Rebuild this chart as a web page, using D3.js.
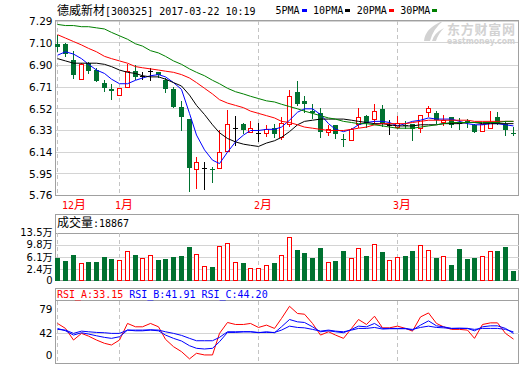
<!DOCTYPE html>
<html><head><meta charset="utf-8">
<script src="https://cdn.jsdelivr.net/npm/d3@7"></script>
<style>body{margin:0;background:#fff}svg{display:block}</style>
</head><body><svg id="c" width="520" height="365"></svg>
<script>
// ---------------- data ----------------
const stockTitle = "德威新材[300325] 2017-03-22 10:19";
const dates = ["2016-12-21","2016-12-22","2016-12-23","2016-12-26","2016-12-27","2016-12-28","2016-12-29","2016-12-30",
"2017-01-03","2017-01-04","2017-01-05","2017-01-06","2017-01-09","2017-01-10","2017-01-11","2017-01-12","2017-01-13","2017-01-16","2017-01-17","2017-01-18","2017-01-19","2017-01-20","2017-01-23","2017-01-24","2017-01-25","2017-01-26",
"2017-02-03","2017-02-06","2017-02-07","2017-02-08","2017-02-09","2017-02-10","2017-02-13","2017-02-14","2017-02-15","2017-02-16","2017-02-17","2017-02-20","2017-02-21","2017-02-22","2017-02-23","2017-02-24","2017-02-27","2017-02-28",
"2017-03-01","2017-03-02","2017-03-03","2017-03-06","2017-03-07","2017-03-08","2017-03-09","2017-03-10","2017-03-13","2017-03-14","2017-03-15","2017-03-16","2017-03-17","2017-03-20","2017-03-21","2017-03-22"];
const openP  = [7.09,7.09,6.95,6.78,6.92,6.86,6.75,6.69,6.64,6.71,6.85,6.81,6.85,6.84,6.77,6.69,6.54,6.43,5.99,6.00,5.99,6.00,6.15,6.35,6.385,6.32,6.31,6.31,6.35,6.275,6.39,6.665,6.59,6.505,6.48,6.32,6.375,6.255,6.245,6.385,6.46,6.435,6.52,6.375,6.36,6.375,6.385,6.355,6.495,6.48,6.405,6.445,6.395,6.415,6.38,6.325,6.355,6.445,6.39,6.31];
const highP  = [7.17,7.10,7.03,6.92,6.93,6.88,6.77,6.74,6.70,6.91,6.90,6.84,6.88,6.84,6.79,6.71,6.59,6.43,6.10,6.05,6.01,6.33,6.51,6.455,6.40,6.41,6.40,6.375,6.39,6.45,6.685,6.76,6.63,6.56,6.525,6.375,6.38,6.30,6.355,6.53,6.465,6.56,6.555,6.42,6.46,6.41,6.39,6.47,6.545,6.50,6.465,6.45,6.44,6.43,6.385,6.39,6.50,6.49,6.41,6.36];
const lowP   = [7.03,6.98,6.79,6.77,6.83,6.76,6.68,6.61,6.635,6.70,6.78,6.78,6.77,6.80,6.665,6.54,6.33,5.80,5.82,5.82,5.88,5.995,6.14,6.20,6.31,6.31,6.235,6.275,6.275,6.245,6.36,6.555,6.495,6.44,6.275,6.28,6.26,6.19,6.24,6.355,6.36,6.39,6.37,6.30,6.34,6.35,6.245,6.31,6.45,6.40,6.37,6.36,6.34,6.36,6.315,6.32,6.35,6.39,6.29,6.29];
const closeP = [7.06,7.00,6.82,6.91,6.85,6.76,6.70,6.68,6.70,6.85,6.80,6.81,6.85,6.82,6.69,6.54,6.45,6.00,6.05,6.00,5.985,6.14,6.385,6.35,6.33,6.35,6.31,6.345,6.295,6.395,6.63,6.56,6.56,6.48,6.32,6.345,6.295,6.25,6.34,6.45,6.40,6.50,6.39,6.375,6.40,6.365,6.345,6.465,6.525,6.42,6.42,6.375,6.39,6.405,6.32,6.385,6.405,6.40,6.335,6.295];
const ma5  = [6.99,7.02,7.00,6.96,6.91,6.86,6.83,6.78,6.74,6.74,6.77,6.79,6.81,6.82,6.80,6.75,6.69,6.48,6.29,6.16,6.07,6.04,6.14,6.23,6.29,6.33,6.33,6.34,6.34,6.36,6.42,6.49,6.52,6.52,6.47,6.39,6.34,6.32,6.34,6.38,6.40,6.41,6.41,6.40,6.37,6.39,6.41,6.42,6.44,6.43,6.43,6.43,6.41,6.39,6.38,6.38,6.39,6.39,6.38,6.37];
const ma10 = [6.96,6.94,6.92,6.92,6.92,6.92,6.91,6.89,6.86,6.84,6.83,6.81,6.80,6.80,6.78,6.75,6.72,6.64,6.55,6.47,6.38,6.31,6.26,6.23,6.21,6.20,6.19,6.22,6.24,6.27,6.32,6.38,6.41,6.42,6.43,6.43,6.43,6.43,6.42,6.41,6.40,6.39,6.39,6.38,6.37,6.37,6.37,6.38,6.38,6.38,6.39,6.39,6.39,6.40,6.40,6.39,6.39,6.39,6.39,6.39];
const ma20 = [7.17,7.14,7.11,7.08,7.05,7.02,6.98,6.96,6.94,6.92,6.89,6.88,6.87,6.86,6.85,6.84,6.82,6.79,6.75,6.70,6.65,6.60,6.57,6.55,6.53,6.50,6.48,6.46,6.44,6.41,6.40,6.38,6.36,6.35,6.34,6.33,6.33,6.33,6.34,6.35,6.36,6.38,6.39,6.39,6.39,6.39,6.40,6.41,6.42,6.42,6.42,6.42,6.42,6.42,6.41,6.41,6.41,6.41,6.41,6.41];
const ma30 = [7.26,7.25,7.25,7.24,7.24,7.23,7.22,7.19,7.16,7.13,7.09,7.07,7.03,7.01,6.98,6.94,6.91,6.87,6.84,6.81,6.77,6.74,6.70,6.67,6.65,6.63,6.61,6.59,6.58,6.56,6.54,6.52,6.50,6.48,6.46,6.44,6.43,6.41,6.40,6.39,6.39,6.38,6.37,6.36,6.35,6.35,6.35,6.36,6.37,6.38,6.39,6.40,6.40,6.40,6.40,6.40,6.40,6.40,6.41,6.41];
const volume = [5.82,4.82,6.63,4.43,4.52,4.52,6.03,5.42,5.33,8.06,6.63,5.73,6.63,5.12,5.52,6.03,6.33,9.05,6.94,3.52,3.0,9.36,10.47,4.73,4.3,2.91,2.91,3.82,4.3,6.63,12.08,8.15,7.33,5.82,8.75,4.52,4.82,7.84,5.94,8.96,6.42,9.96,7.63,5.12,6.24,6.33,7.84,9.66,8.36,5.82,6.33,3.61,8.45,5.42,5.82,6.33,7.84,7.84,9.05,1.8867]; // 万
const rsiA = [57.4,49.7,31.7,42,37.8,31.7,26.6,24,31.7,57.4,52.2,52.2,57.4,52.2,32.8,21.4,13.7,2.5,11.2,8.6,8.6,42,58.9,55.8,55.8,57.4,51.2,54.8,49.7,65.1,84,72.8,71.7,57.4,39.4,44.5,39.4,34.3,49.7,63.5,55.8,68.6,50.6,50.6,53.2,49.7,45.5,67.5,73.7,57.4,52.2,48.2,48.2,47.1,34.3,55.8,58.3,58.3,42,33.15];
const rsiB = [49.7,46,39.4,43,41,38.3,35.8,34.3,36.8,47.1,46,46,47.1,46,39.4,34.3,30.2,22.9,18.9,17.8,18.9,29.1,43.5,43.5,44.5,44.5,43,44.5,43,52.2,63.5,59.9,58.9,52.2,44.5,46,44.5,43,48.2,53.2,52.2,57.4,49.7,49.7,49.7,49.7,47.1,54.8,61.4,53.7,52.2,49.7,49.7,49.7,46,52.2,53.7,53.7,49.7,41.91];
const rsiC = [48.2,47.1,42,45.5,44.5,43.5,43,42,42,47.1,47.1,47.1,47.6,47.1,44.5,42,38.9,34.3,30.6,30.6,30.6,35.8,44.5,44.5,44.5,44.5,43.5,43.5,43.5,47.1,53.2,51.2,50.6,48.2,45.5,47.1,45.5,44.5,47.1,49.7,49.7,51.2,48.7,49.2,49.2,49.2,48.2,51.2,53.2,51.2,50.6,49.7,50.1,49.7,48.2,49.7,49.7,49.7,48.2,44.2];
const priceTicks = [7.29,7.10,6.90,6.71,6.52,6.33,6.14,5.95,5.76];
const volTicks = [13.5,9.8,6.1,2.4];
const volTickLabels = ["13.5万","9.8万","6.1万","2.4万"];
const rsiTicks = [79,42,0];
const maNames = ["5PMA","10PMA","20PMA","30PMA"];
const rsiNames = ["RSI_A","RSI_B","RSI_C"];

// ---------------- drawing ----------------
const svg = d3.select("#c");
const gridC = "#d4d4d4", frameC = "#a0a0a0", dashC = "#c4c4c4";
const upC = "#ff0000", dnC = "#007130", flatC = "#000000";
const maColors = ["#0000ff","#000000","#ff0000","#008000"];
const L = 55.5, R = 518.5;
const n = dates.length;

const x = d3.scaleBand().domain(d3.range(n)).range([54, 517.2]);
const bodyX = i => Math.round(x(i) + x.bandwidth()/2 - 2.5);
const cx = i => bodyX(i) + 2.5;

const CJK = /[\u3000-\u9fff\uff00-\uffef]/;
function rich(parent, px, py, str, fill, asciiSize = 10, cjkSize = 12, asciiFont = "'DejaVu Sans Mono'") {
  const t = parent.append("text").attr("x", px).attr("y", py).attr("fill", fill);
  const runs = str.match(/[\u3000-\u9fff\uff00-\uffef]+|[^\u3000-\u9fff\uff00-\uffef]+/g);
  runs.forEach(r => {
    const c = CJK.test(r);
    t.append("tspan").text(r)
      .attr("font-family", c ? "'Noto Sans CJK SC'" : asciiFont)
      .attr("font-size", c ? cjkSize : asciiSize);
  });
  return t;
}

const monthStarts = d3.range(n).filter(i => i === 0 || dates[i].slice(5,7) !== dates[i-1].slice(5,7));

// ---- title & legend ----
rich(svg, 57, 15, stockTitle, "#000");
let lx = 275.5;
maNames.forEach((nm, k) => {
  rich(svg, lx, 14, nm, "#000");
  const w = nm.length * 6.02;
  svg.append("rect").attr("x", Math.round(lx + w + 2)).attr("y", 9).attr("width", 5).attr("height", 3).attr("fill", maColors[k]);
  lx = lx + w + 2 + 5 + 6.5;
});

// ---- main panel ----
const yP = d3.scaleLinear().domain([5.76, 7.29]).range([195.5, 21]);
const main = svg.append("g");
main.selectAll("line.grid").data(priceTicks).join("line")
  .attr("x1", L).attr("x2", R)
  .attr("y1", d => Math.floor(yP(d)) + 0.5).attr("y2", d => Math.floor(yP(d)) + 0.5)
  .attr("stroke", gridC).attr("shape-rendering", "crispEdges");
main.selectAll("line.vd").data(monthStarts).join("line")
  .attr("x1", i => cx(i)).attr("x2", i => cx(i)).attr("y1", 21).attr("y2", 195)
  .attr("stroke", dashC).attr("stroke-dasharray", "4,3").attr("shape-rendering", "crispEdges");

// watermark
const wm = main.append("g").attr("fill", "#d2d2d2");
wm.append("path").attr("d", "M424,41 Q425,28 443,21 Q433,29 430,41 Z");
wm.append("path").attr("d", "M432,41 Q434,33 444,28 Q438,34 436,41 Z");
wm.append("text").attr("x", 447).attr("y", 34).attr("font-family", "'Noto Sans CJK SC'").attr("font-weight", "bold")
  .attr("font-size", 13).attr("textLength", 68).text("东方财富网");
wm.append("text").attr("x", 447).attr("y", 44).attr("font-family", "'DejaVu Sans'").attr("font-weight", "bold")
  .attr("font-size", 8).attr("textLength", 68).attr("lengthAdjust", "spacingAndGlyphs").text("eastmoney.com");

main.append("rect").attr("x", L).attr("y", 20.5).attr("width", R - L).attr("height", 175)
  .attr("fill", "none").attr("stroke", frameC).attr("shape-rendering", "crispEdges");

// candles
const candles = main.append("g").attr("shape-rendering", "crispEdges");
d3.range(n).forEach(i => {
  const o = openP[i], c = closeP[i], h = highP[i], l = lowP[i];
  const bx = bodyX(i), wx = bx + 2.5;
  const yH = Math.round(yP(h)), yL = Math.round(yP(l));
  const yT = Math.round(yP(Math.max(o, c))), yB = Math.round(yP(Math.min(o, c)));
  if (c > o) {
    candles.append("line").attr("x1", wx).attr("x2", wx).attr("y1", yH).attr("y2", yT).attr("stroke", upC);
    candles.append("line").attr("x1", wx).attr("x2", wx).attr("y1", yB + 1).attr("y2", yL).attr("stroke", upC);
    candles.append("rect").attr("x", bx + 0.5).attr("y", yT + 0.5).attr("width", 4).attr("height", Math.max(yB - yT, 1))
      .attr("fill", "#fff").attr("stroke", upC);
  } else if (c < o) {
    candles.append("line").attr("x1", wx).attr("x2", wx).attr("y1", yH).attr("y2", yL + 1).attr("stroke", dnC);
    candles.append("rect").attr("x", bx).attr("y", yT).attr("width", 5).attr("height", Math.max(yB - yT, 1)).attr("fill", dnC);
  } else {
    candles.append("line").attr("x1", wx).attr("x2", wx).attr("y1", yH).attr("y2", yL + 1).attr("stroke", flatC);
    candles.append("line").attr("x1", bx).attr("x2", bx + 5).attr("y1", yT + 0.5).attr("y2", yT + 0.5).attr("stroke", flatC);
  }
});

// moving averages
[ma5, ma10, ma20, ma30].forEach((arr, k) => {
  main.append("path").datum(arr)
    .attr("d", d3.line().x((d, i) => cx(i)).y(d => yP(d)))
    .attr("fill", "none").attr("stroke", maColors[k]).attr("stroke-width", 1);
});

// price axis
const axP = svg.append("g").attr("transform", `translate(${L},0)`)
  .call(d3.axisLeft(yP).tickValues(priceTicks).tickFormat(d3.format(".2f")).tickSize(0).tickPadding(3));
axP.select(".domain").remove();
axP.selectAll("text").attr("font-family", "'DejaVu Sans'").attr("font-size", 10.5).attr("fill", "#000");

// month labels
monthStarts.forEach(i => {
  const m = +dates[i].slice(5, 7);
  const lx2 = Math.max(cx(i) - 4.5, 62);
  rich(svg, lx2, 209, m + "月", upC);
});

// ---- volume panel ----
const yV = d3.scaleLinear().domain([-1.0, 13.5]).range([280.5, 232.5]);
const vol = svg.append("g");
vol.append("rect").attr("x", L).attr("y", 214.5).attr("width", R - L).attr("height", 66)
  .attr("fill", "none").attr("stroke", frameC).attr("shape-rendering", "crispEdges");
vol.selectAll("line.grid").data(volTicks).join("line")
  .attr("x1", L).attr("x2", R)
  .attr("y1", d => Math.round(yV(d)) + 0.5).attr("y2", d => Math.round(yV(d)) + 0.5)
  .attr("stroke", (d, k) => k === 0 ? frameC : gridC).attr("shape-rendering", "crispEdges");
vol.selectAll("line.vd").data(monthStarts).join("line")
  .attr("x1", i => cx(i)).attr("x2", i => cx(i)).attr("y1", 233).attr("y2", 280)
  .attr("stroke", dashC).attr("stroke-dasharray", "4,3").attr("shape-rendering", "crispEdges");
const vb = vol.append("g").attr("shape-rendering", "crispEdges");
d3.range(n).forEach(i => {
  const up = closeP[i] >= openP[i];
  const bx = bodyX(i);
  const yt = Math.round(yV(volume[i]));
  const yb = Math.round(yV.range()[0]);
  if (up) {
    vb.append("rect").attr("x", bx + 0.5).attr("y", yt + 0.5).attr("width", 4).attr("height", yb - yt - 1)
      .attr("fill", "#fff").attr("stroke", upC);
  } else {
    vb.append("rect").attr("x", bx).attr("y", yt).attr("width", 5).attr("height", yb - yt).attr("fill", dnC);
  }
});
rich(svg, 57, 226.5, "成交量:" + Math.round(volume[n - 1] * 10000), "#000");
const axV = svg.append("g").attr("transform", `translate(${L},0)`)
  .call(d3.axisLeft(yV).tickValues(volTicks.concat([yV.domain()[0]]))
    .tickFormat(d => { const k = volTicks.indexOf(d); return k >= 0 ? volTickLabels[k] : "0"; })
    .tickSize(0).tickPadding(3));
axV.select(".domain").remove();
axV.selectAll("text").attr("font-family", "'DejaVu Sans','Noto Sans CJK SC'").attr("font-size", 10).attr("fill", "#000");
axV.selectAll("text").filter(d => d < 0).attr("y", 0);

// ---- RSI panel ----
const yR = d3.scaleLinear().domain([0, 79]).range([360.5, 309.5]);
const rsi = svg.append("g");
rsi.append("rect").attr("x", L).attr("y", 288.5).attr("width", R - L).attr("height", 75)
  .attr("fill", "none").attr("stroke", frameC).attr("shape-rendering", "crispEdges");
rsi.append("line").attr("x1", L).attr("x2", R).attr("y1", 300.5).attr("y2", 300.5)
  .attr("stroke", frameC).attr("shape-rendering", "crispEdges");
rsi.append("line").attr("x1", L).attr("x2", R).attr("y1", Math.round(yR(42)) + 0.5).attr("y2", Math.round(yR(42)) + 0.5)
  .attr("stroke", gridC).attr("shape-rendering", "crispEdges");
rsi.selectAll("line.vd").data(monthStarts).join("line")
  .attr("x1", i => cx(i)).attr("x2", i => cx(i)).attr("y1", 301).attr("y2", 363)
  .attr("stroke", dashC).attr("stroke-dasharray", "4,3").attr("shape-rendering", "crispEdges");
const rsiColors = ["#ff0000", "#0000ff", "#0000ff"];
[rsiA, rsiB, rsiC].forEach((arr, k) => {
  rsi.append("path").datum(arr)
    .attr("d", d3.line().x((d, i) => cx(i)).y(d => yR(d)))
    .attr("fill", "none").attr("stroke", rsiColors[k]).attr("stroke-width", 1);
});
let rx = 57;
[rsiA, rsiB, rsiC].forEach((arr, k) => {
  const s = rsiNames[k] + ":" + arr[n - 1].toFixed(2);
  rich(svg, rx, 297.5, s, rsiColors[k]);
  rx += s.length * 6.02 + 6;
});
const axR = svg.append("g").attr("transform", `translate(${L},0)`)
  .call(d3.axisLeft(yR).tickValues(rsiTicks).tickFormat(d3.format("d")).tickSize(0).tickPadding(3));
axR.select(".domain").remove();
axR.selectAll("text").attr("font-family", "'DejaVu Sans'").attr("font-size", 10.5).attr("fill", "#000");
axR.selectAll("text").filter(d => d === 0).attr("y", -5.5);
</script>
</body></html>
